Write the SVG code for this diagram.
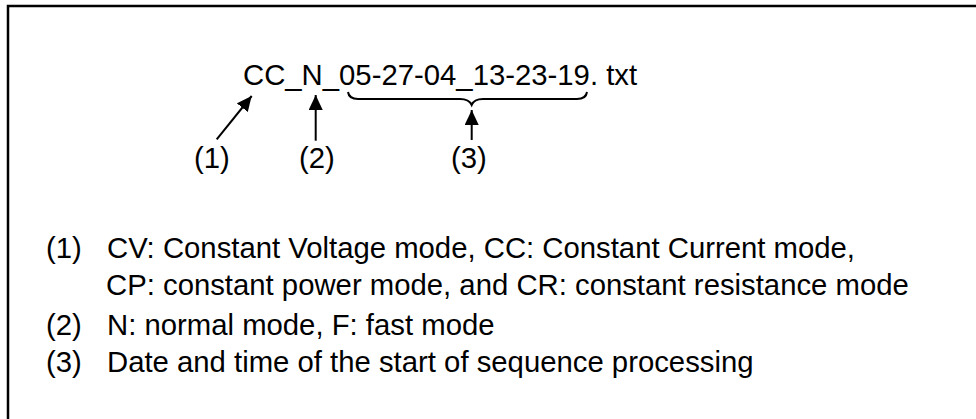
<svg xmlns="http://www.w3.org/2000/svg" width="976" height="419" viewBox="0 0 976 419">
<defs>
<style>
text{font-family:"Liberation Sans",Arial,sans-serif;font-size:29.3px;fill:#000}
.ln{stroke:#000;stroke-width:2;fill:none}
</style>
<marker id="ah" markerUnits="userSpaceOnUse" markerWidth="16" markerHeight="14" refX="15" refY="7" orient="auto">
<path d="M0,0 L15,7 L0,14 Z" fill="#000"/>
</marker>
</defs>
<rect width="976" height="419" fill="#fff"/>
<path d="M8,419 L8,6 L976,6" stroke="#000" stroke-width="2.5" fill="none"/>
<g id="filename"><text x="243" y="85">CC_N_05-27-04_13-23-19. txt</text></g>
<g id="label1"><text x="194" y="168">(1)</text></g>
<g id="label2"><text x="299" y="168">(2)</text></g>
<g id="label3"><text x="451" y="168">(3)</text></g>
<g id="connectors">
<line class="ln" x1="216.7" y1="139.3" x2="251.7" y2="96" marker-end="url(#ah)"/>
<line class="ln" x1="315.7" y1="140.7" x2="315.7" y2="95" marker-end="url(#ah)"/>
<line class="ln" x1="471.7" y1="140" x2="471.7" y2="110" marker-end="url(#ah)"/>
<path class="ln" d="M348,92 Q349,99 358,99 L460,99 Q469,99 471.7,105 Q474,99 483,99 L577,99 Q586,99 587,92"/>
</g>
<g id="legend">
<text x="46" y="258">(1)</text><text x="107" y="258">CV: Constant Voltage mode, CC: Constant Current mode,</text>
<text x="106" y="295">CP: constant power mode, and CR: constant resistance mode</text>
<text x="46" y="335">(2)</text><text x="107" y="335">N: normal mode, F: fast mode</text>
<text x="46" y="372">(3)</text><text x="107" y="372">Date and time of the start of sequence processing</text>
</g>
</svg>
